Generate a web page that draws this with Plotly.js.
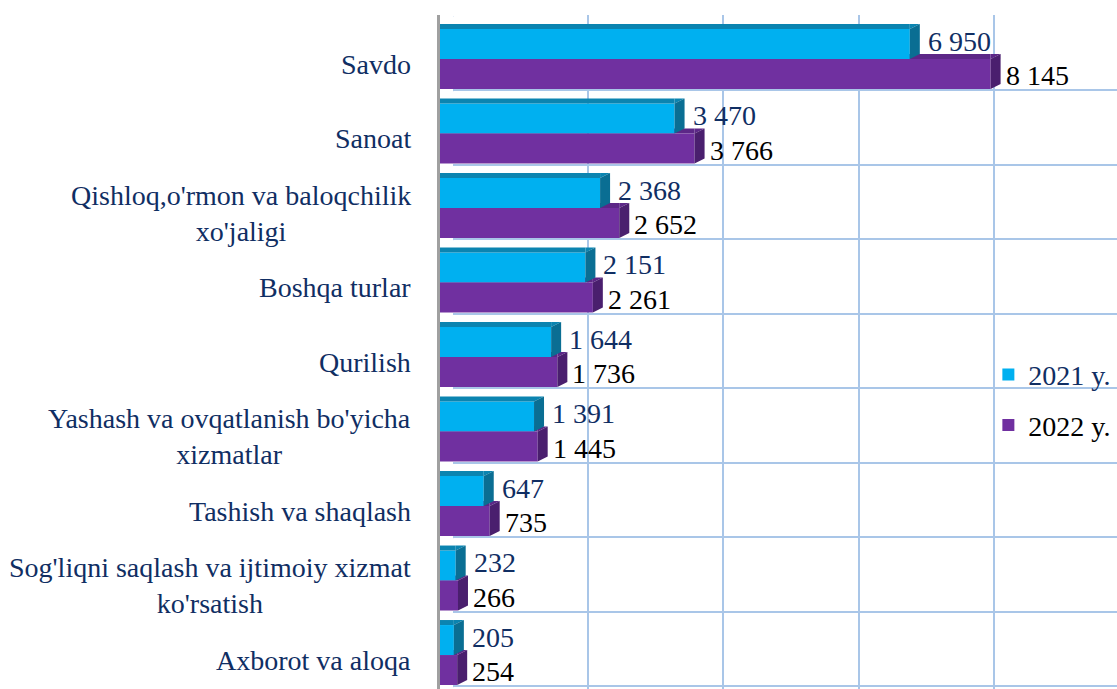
<!DOCTYPE html>
<html>
<head>
<meta charset="utf-8">
<script src="https://cdn.plot.ly/plotly-3.0.1.min.js"></script>
<style>html,body{margin:0;padding:0;background:#fff;}#chart{width:1117px;height:689px;}
#chart text.annotation-text, #chart text.legendtext{font-family:'Liberation Serif' !important;}</style>
</head>
<body>
<div id="chart"></div>
<script>
const categories = ["Savdo", "Sanoat", "Qishloq,o'rmon va baloqchilik<br>xo'jaligi", "Boshqa turlar", "Qurilish",
  "Yashash va ovqatlanish bo'yicha<br>xizmatlar", "Tashish va shaqlash",
  "Sog'liqni saqlash va ijtimoiy xizmat<br>ko'rsatish", "Axborot va aloqa"];
const values2021 = [6950, 3470, 2368, 2151, 1644, 1391, 647, 232, 205];
const values2022 = [8145, 3766, 2652, 2261, 1736, 1445, 735, 266, 254];
const seriesNames = ["2021 y.", "2022 y."];
const gridTicks = [0, 2000, 4000, 6000, 8000];

const FONT = 'Liberation Serif';
const NAVY = '#102E63';
const C21 = '#00B0F0', C21top = '#0B84B0', C21side = '#0A6E93';
const C22 = '#7030A0', C22top = '#5C2787', C22side = '#4A1F6E';
const GRID = '#A9C6E8';
const pxPerUnit = 0.0676;   // pixels per value unit
const plotW = 677;
const depthX = 10, depthY = 5, barPx = 30, wallX = 13, wallY = 6;

const pos = categories.map((c, i) => i);
const fmt = v => String(v).replace(/\B(?=(\d{3})+(?!\d))/g, ' ');

const traces = [
  {type: 'scatter', x: [0], y: [0], mode: 'markers', marker: {opacity: 0}, showlegend: false,
   hoverinfo: 'skip', xaxis: 'x', yaxis: 'y'},
  {type: 'bar', orientation: 'h', x: values2021, y: pos, xaxis: 'x2', yaxis: 'y2',
   name: '<span style="color:' + NAVY + '">' + seriesNames[0] + '</span>', marker: {color: C21},
   legendgroup: 'a'},
  {type: 'bar', orientation: 'h', x: values2022, y: pos, xaxis: 'x2', yaxis: 'y2',
   name: seriesNames[1], marker: {color: C22}, legendgroup: 'b'}
];

const shapes = [];
pos.forEach(i => {
  const v1 = values2021[i], v2 = values2022[i];
  shapes.push({type: 'rect', layer: 'below', xref: 'x2', yref: 'y2', x0: 0, x1: v2,
    ysizemode: 'pixel', yanchor: i, y0: 0, y1: depthY, fillcolor: C22top, line: {width: 0}});
  shapes.push({type: 'path', layer: 'below', xref: 'x2', yref: 'y2', xsizemode: 'pixel', ysizemode: 'pixel',
    xanchor: v2, yanchor: i, path: `M0,0 L${depthX},${depthY} L0,${depthY} Z`, fillcolor: C22top, line: {width: 0}});
  shapes.push({type: 'path', xref: 'x2', yref: 'y2', xsizemode: 'pixel', ysizemode: 'pixel',
    xanchor: v2, yanchor: i, path: `M0,${-barPx} L0,0 L${depthX},${depthY} L${depthX},${depthY - barPx} Z`,
    fillcolor: C22side, line: {width: 0}});
  shapes.push({type: 'rect', xref: 'x2', yref: 'y2', x0: 0, x1: v1,
    ysizemode: 'pixel', yanchor: i, y0: barPx, y1: barPx + depthY, fillcolor: C21top, line: {width: 0}});
  shapes.push({type: 'path', xref: 'x2', yref: 'y2', xsizemode: 'pixel', ysizemode: 'pixel',
    xanchor: v1, yanchor: i, path: `M0,${barPx} L${depthX},${barPx + depthY} L0,${barPx + depthY} Z`,
    fillcolor: C21top, line: {width: 0}});
  shapes.push({type: 'path', xref: 'x2', yref: 'y2', xsizemode: 'pixel', ysizemode: 'pixel',
    xanchor: v1, yanchor: i, path: `M0,0 L0,${barPx} L${depthX},${barPx + depthY} L${depthX},${depthY} Z`,
    fillcolor: C21side, line: {width: 0}});
});
const hGrid = [-0.5].concat(pos.map(i => i + 0.5));
hGrid.forEach(b => {
  shapes.push({type: 'line', xref: 'x', yref: 'y', xsizemode: 'pixel', ysizemode: 'pixel',
    xanchor: 0, yanchor: b, x0: -wallX, x1: 0, y0: -wallY, y1: 0, line: {color: GRID, width: 2}});
});

const annotations = [];
pos.forEach(i => {
  annotations.push({xref: 'x2', yref: 'y2', x: 0, y: i, text: categories[i], showarrow: false,
    xanchor: 'right', yanchor: 'middle', align: 'center', xshift: -27, yshift: -5,
    font: {family: FONT, size: 28, color: NAVY}});
  annotations.push({xref: 'x2', yref: 'y2', x: values2021[i], y: i - 0.2, text: fmt(values2021[i]),
    showarrow: false, xanchor: 'left', yanchor: 'middle', xshift: 16, yshift: 3,
    font: {family: FONT, size: 28, color: NAVY}});
  annotations.push({xref: 'x2', yref: 'y2', x: values2022[i], y: i + 0.2, text: fmt(values2022[i]),
    showarrow: false, xanchor: 'left', yanchor: 'middle', xshift: 13, yshift: -2,
    font: {family: FONT, size: 28, color: '#000'}});
});

const topIdx = -0.591, botIdx = 8.456, gridShift = wallY / 74.5;
const layout = {
  width: 1117, height: 689,
  margin: {l: 440, r: 0, t: 15, b: 0},
  paper_bgcolor: '#fff', plot_bgcolor: 'rgba(0,0,0,0)',
  barmode: 'group', bargap: 0.195, bargroupgap: 0,
  showlegend: true,
  legend: {x: 0.81, y: 0.429, xanchor: 'left', yanchor: 'middle', bgcolor: 'rgba(0,0,0,0)',
    traceorder: 'grouped', tracegroupgap: 11, itemwidth: 30, font: {family: FONT, size: 28, color: '#000'}},
  xaxis: {domain: [wallX / plotW, 1], anchor: 'y', range: [0, (plotW - wallX) / pxPerUnit],
    tickvals: gridTicks, showgrid: true, gridcolor: GRID, gridwidth: 2, showticklabels: false,
    zeroline: false, showline: false, ticks: ''},
  yaxis: {domain: [0, 1], anchor: 'x', range: [botIdx + gridShift, topIdx + gridShift],
    tickvals: hGrid, showgrid: true, gridcolor: GRID, gridwidth: 2, showticklabels: false,
    zeroline: false, showline: false, ticks: ''},
  xaxis2: {domain: [0, 1], anchor: 'y2', range: [0, plotW / pxPerUnit], showgrid: false,
    showticklabels: false, zeroline: false, showline: false, ticks: ''},
  yaxis2: {domain: [0, 1], anchor: 'x2', range: [botIdx, topIdx], showgrid: false,
    showticklabels: false, zeroline: false, showline: true, linecolor: '#A0A0A0', linewidth: 3, ticks: ''},
  shapes: shapes,
  annotations: annotations,
  hovermode: false
};

Plotly.newPlot('chart', traces, layout, {displayModeBar: false, staticPlot: true});
</script>
</body>
</html>
